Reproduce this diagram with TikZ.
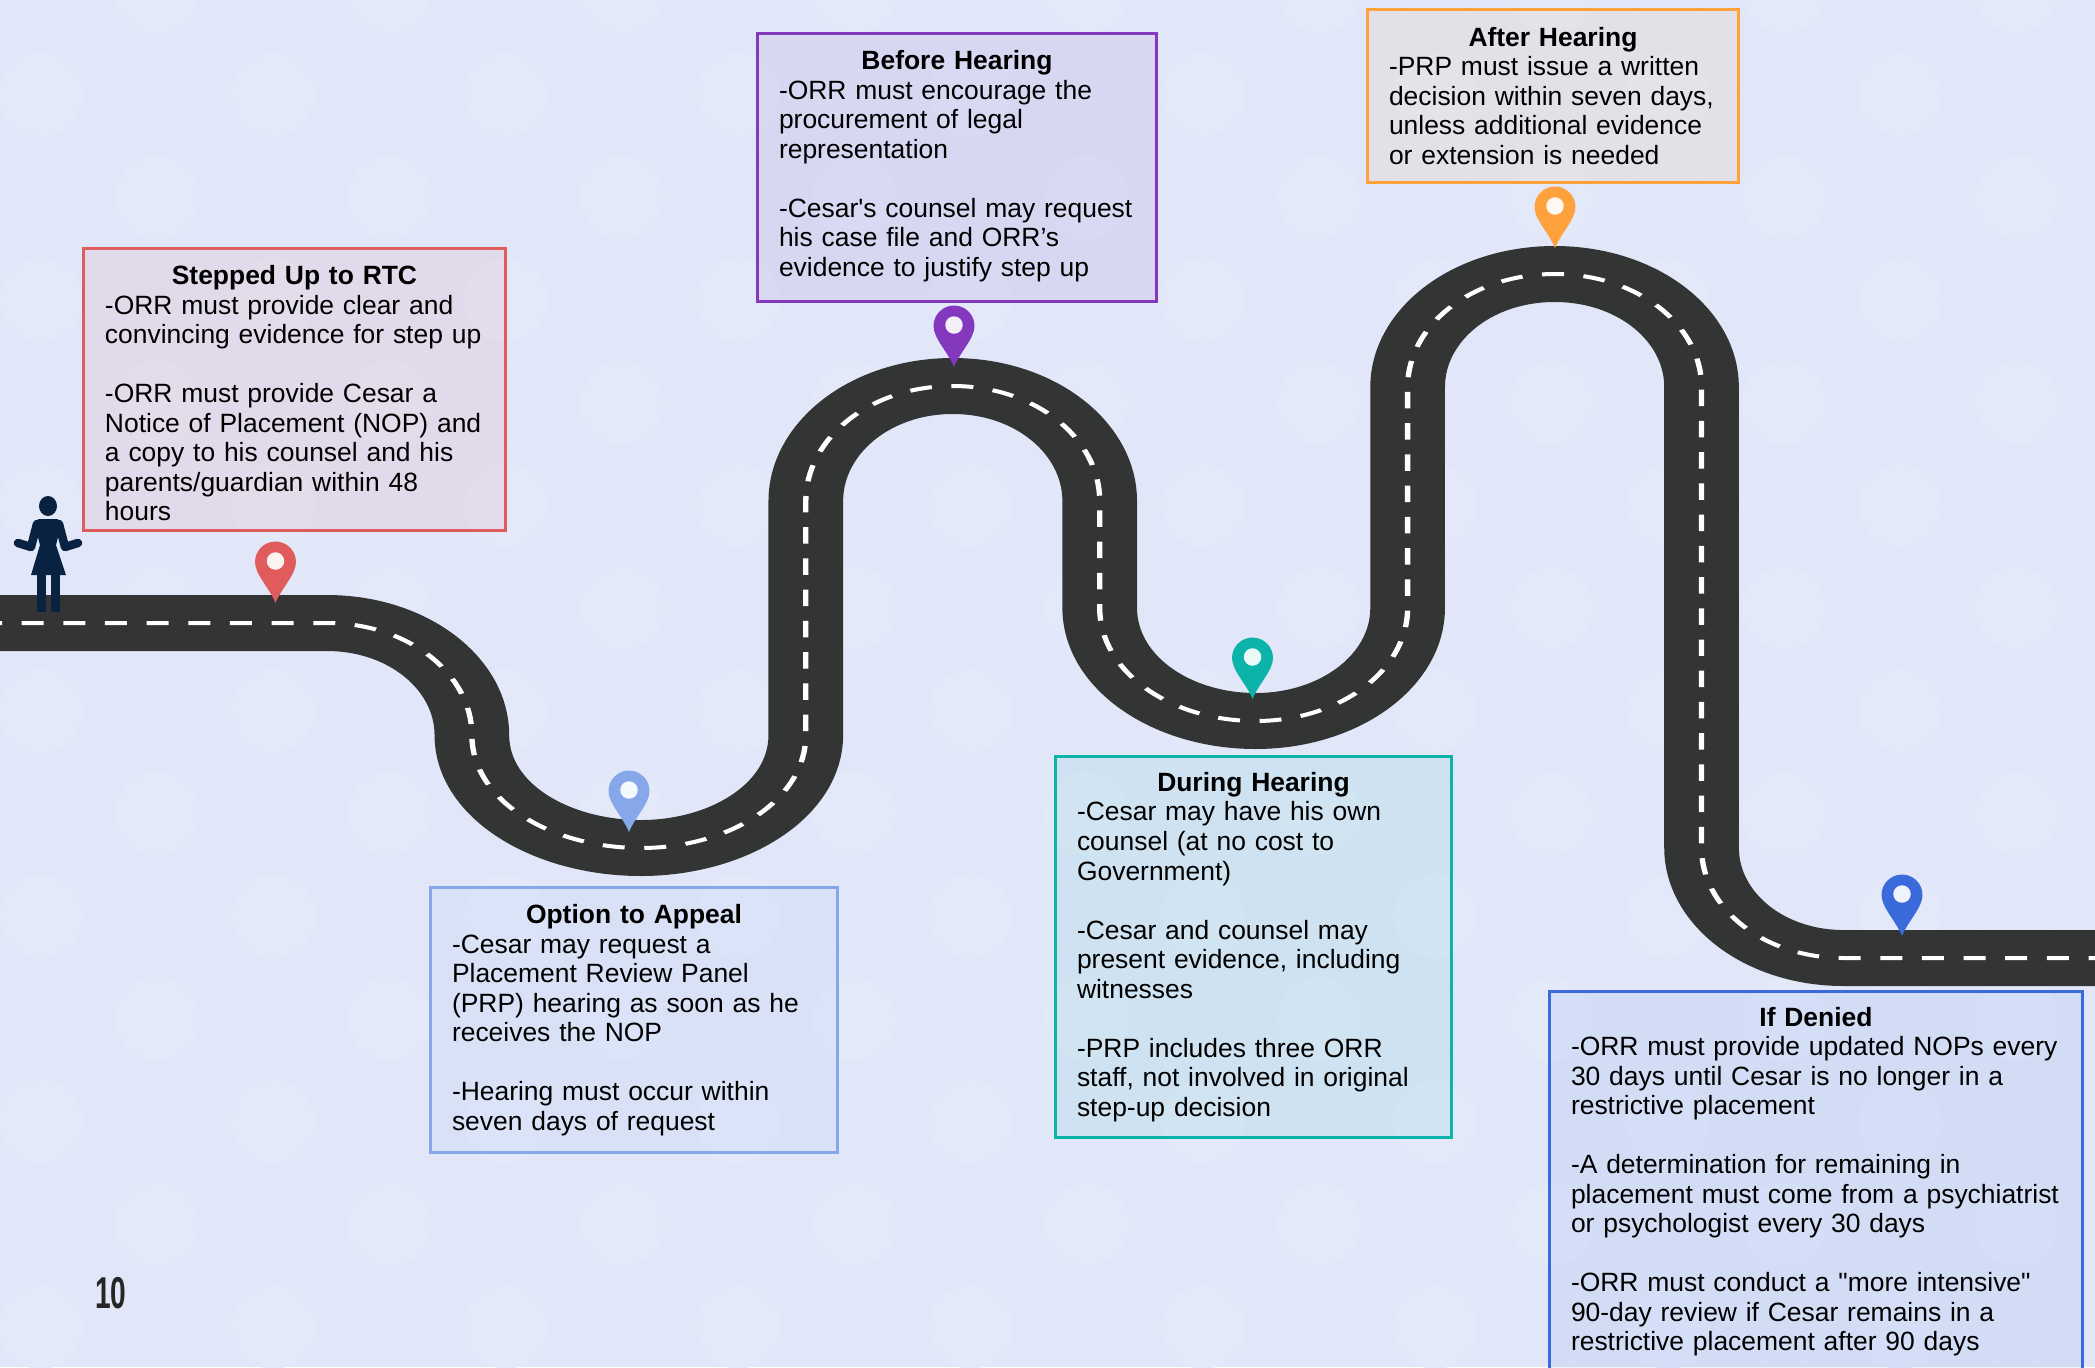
\documentclass[tikz,border=0pt]{standalone}
\usepackage{fontspec}
\setmainfont{Liberation Sans}[Ligatures=TeXOff]
\definecolor{bgcol}{HTML}{E1E7F8}
\definecolor{bgspot}{HTML}{E3E9F9}
\definecolor{roadcol}{HTML}{333535}
\definecolor{walkercol}{HTML}{0A2242}
\definecolor{pinred}{HTML}{E05B5C}
\definecolor{pinsky}{HTML}{86A7EA}
\definecolor{pinpurple}{HTML}{8438BE}
\definecolor{pinteal}{HTML}{0BB3A8}
\definecolor{pinorange}{HTML}{FFA13D}
\definecolor{pinblue}{HTML}{3B6ADB}
\tikzset{
  infobox/.style={draw=#1, fill=#1, fill opacity=0.085, draw opacity=1, text opacity=1,
    line width=0.06cm, anchor=north west, outer sep=0pt, inner xsep=0.44cm, inner ysep=0pt,
    font=\fontsize{15.05}{16.8}\selectfont, align=left},
  roadbed/.style={draw=roadcol, line width=1.12cm},
  roadline/.style={draw=white, line width=0.08cm, dash pattern=on 0.33cm off 0.295cm},
  spotring/.style={draw=bgspot, line width=0.035cm}
}

\begin{document}
\begin{tikzpicture}[x=0.02cm, y=-0.02cm]
\path[use as bounding box, clip] (0,0) rectangle (2095,1367);
\fill[bgcol] (0,0) rectangle (2095,1367);

% background spots
\foreach \k in {0,...,17} {
  \foreach \j in {0,...,13} {
    \pgfmathsetmacro\cx{41 + 116.2 * \k}
    \pgfmathsetmacro\cy{1327 - 102.7 * \j}
    \pgfmathparse{int(mod(\k + \j, 2))}
    \ifnum\pgfmathresult=0
      \fill[bgspot] (\cx, \cy) circle (0.84cm);
    \else
      \pgfmathparse{int(mod(\k, 2))}
      \ifnum\pgfmathresult=1
        \draw[spotring] (\cx, \cy) ++(-65:0.8cm) arc[start angle=-65, end angle=65, radius=0.8cm];
        \draw[spotring] (\cx, \cy) ++(115:0.8cm) arc[start angle=115, end angle=245, radius=0.8cm];
      \else
        \draw[spotring] (\cx, \cy) ++(25:0.8cm) arc[start angle=25, end angle=155, radius=0.8cm];
        \draw[spotring] (\cx, \cy) ++(205:0.8cm) arc[start angle=205, end angle=335, radius=0.8cm];
      \fi
    \fi
  }
}

% road, stretched sideways
\begin{scope}[transform canvas={xscale=1.3333}, x=0.015cm]
\coordinate (ra) at (-20, 623);
\coordinate (rb) at (327, 623);
\coordinate (rc) at (472, 735);
\coordinate (rd) at (641, 848);
\coordinate (re) at (806, 735);
\coordinate (rf) at (806, 501);
\coordinate (rg) at (953, 386);
\coordinate (rh) at (1100, 501);
\coordinate (ri) at (1100, 608);
\coordinate (rj) at (1256, 721);
\coordinate (rk) at (1408, 608);
\coordinate (rl) at (1408, 387);
\coordinate (rm) at (1555, 274);
\coordinate (rn) at (1702, 387);
\coordinate (ro) at (1702, 848);
\coordinate (rp) at (1844, 958);
\coordinate (rq) at (2120, 958);
\foreach \st in {roadbed, roadline} {
  \draw[\st] (ra) -- (rb) to [out=0, in=90] (rc) to [out=-90, in=180] (rd)
    to [out=0, in=-90] (re) -- (rf) to [out=90, in=180] (rg)
    to [out=0, in=90] (rh) -- (ri) to [out=-90, in=180] (rj)
    to [out=0, in=-90] (rk) -- (rl) to [out=90, in=180] (rm)
    to [out=0, in=90] (rn) -- (ro) to [out=-90, in=180] (rp) -- (rq);
}
\end{scope}

% pins
\foreach \tipx/\tipy/\pcol in {275.5/603/pinred, 629/832/pinsky, 954/367/pinpurple,
    1252.5/699/pinteal, 1555/248/pinorange, 1902/936/pinblue} {
  \fill[\pcol] (\tipx, \tipy) .. controls +(-0.12cm, 0.3cm) and +(0cm, -0.25cm) .. (\tipx - 20.5, \tipy - 41)
    arc[start angle=180, end angle=0, radius=0.41cm]
    .. controls +(0cm, -0.25cm) and +(0.12cm, 0.3cm) .. cycle;
  \fill[white!92!\pcol] (\tipx, \tipy - 42) circle (0.175cm);
}

% walker
\fill[walkercol] (48, 506) ellipse (0.18cm and 0.2cm);
\fill[walkercol] (38, 519) -- (58, 519) -- (60, 530) -- (56, 545) -- (66, 575)
  -- (31, 575) -- (40, 545) -- (36, 530) -- cycle;
\draw[walkercol, line width=0.17cm, line cap=round, line join=round] (37, 524) -- (31, 547) -- (18, 543);
\draw[walkercol, line width=0.17cm, line cap=round, line join=round] (59, 524) -- (65, 547) -- (78, 543);
\fill[walkercol] (37, 575) rectangle (46, 612);
\fill[walkercol] (51, 575) rectangle (60, 612);

% text boxes
\node[infobox=pinred, minimum width=8.46cm, minimum height=5.66cm, text width=7.58cm] (stepped) at (83, 248) {%
\rule{0pt}{0.53cm}\makebox[\linewidth]{\textbf{Stepped Up to RTC}}\\
-ORR must provide clear and\\
convincing evidence for step up\\[\baselineskip]
-ORR must provide Cesar a\\
Notice of Placement (NOP) and\\
a copy to his counsel and his\\
parents/guardian within 48\\
hours};

\node[infobox=pinsky, minimum width=8.16cm, minimum height=5.32cm, text width=7.28cm] (appeal) at (430, 887) {%
\makebox[\linewidth]{\textbf{Option to Appeal}}\\
-Cesar may request a\\
Placement Review Panel\\
(PRP) hearing as soon as he\\
receives the NOP\\[\baselineskip]
-Hearing must occur within\\
seven days of request};

\node[infobox=pinpurple, minimum width=8cm, minimum height=5.38cm, text width=7.12cm] (before) at (757, 33) {%
\makebox[\linewidth]{\textbf{Before Hearing}}\\
-ORR must encourage the\\
procurement of legal\\
representation\\[\baselineskip]
-Cesar's counsel may request\\
his case file and ORR’s\\
evidence to justify step up\rule[-0.16cm]{0pt}{0pt}};

\node[infobox=pinteal, minimum width=7.94cm, minimum height=7.64cm, text width=7.06cm] (during) at (1055, 756) {%
\makebox[\linewidth]{\textbf{During Hearing}}\\
-Cesar may have his own\\
counsel (at no cost to\\
Government)\\[\baselineskip]
-Cesar and counsel may\\
present evidence, including\\
witnesses\\[\baselineskip]
-PRP includes three ORR\\
staff, not involved in original\\
step-up decision};

\node[infobox=pinorange, minimum width=7.44cm, minimum height=3.48cm, text width=6.56cm] (after) at (1367, 9) {%
\makebox[\linewidth]{\textbf{After Hearing}}\\
-PRP must issue a written\\
decision within seven days,\\
unless additional evidence\\
or extension is needed};

\node[infobox=pinblue, minimum width=10.68cm, text width=9.8cm, inner ysep=0.32cm] (denied) at (1549, 991) {%
\makebox[\linewidth]{\textbf{If Denied}}\\
-ORR must provide updated NOPs every\\
30 days until Cesar is no longer in a\\
restrictive placement\\[\baselineskip]
-A determination for remaining in\\
placement must come from a psychiatrist\\
or psychologist every 30 days\\[\baselineskip]
-ORR must conduct a "more intensive"\\
90-day review if Cesar remains in a\\
restrictive placement after 90 days\\[\baselineskip]
\mbox{}};

\node[xscale=0.63, text=black!85, font=\bfseries\fontsize{25.4}{30}\selectfont] (pageno) at (111, 1293) {10};
\end{tikzpicture}
\end{document}
